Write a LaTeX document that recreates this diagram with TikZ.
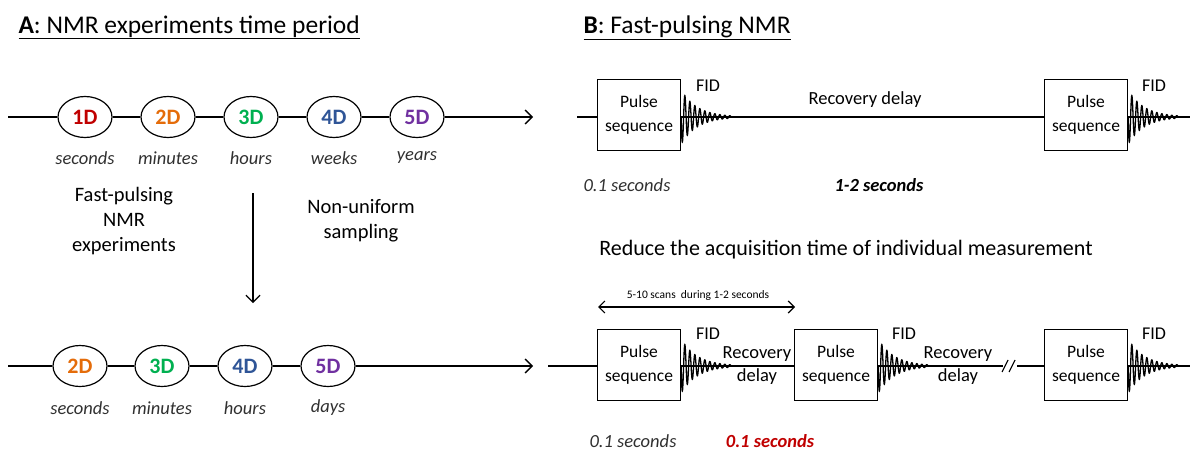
\documentclass[tikz,border=0pt]{standalone}
\usepackage{fontspec}
\setmainfont{Carlito}
\usetikzlibrary{shapes.geometric,arrows.meta}
\definecolor{cA}{HTML}{C00000}
\definecolor{cB}{HTML}{E46C0A}
\definecolor{cC}{HTML}{00B050}
\definecolor{cD}{HTML}{2F5597}
\definecolor{cE}{HTML}{7030A0}
\definecolor{lab}{HTML}{303030}
\tikzset{
  axis/.style={line width=1.3pt},
  dim/.style={draw, ellipse, line width=1.2pt, minimum width=54pt, minimum height=41pt, inner sep=0pt, font=\fontsize{22}{22}\selectfont\bfseries},
  tlab/.style={font=\fontsize{18.5}{18.5}\selectfont\itshape, text=lab},
  body/.style={font=\fontsize{20.5}{25}\selectfont, align=center},
  pbox/.style={draw, line width=1.2pt, minimum width=83pt, minimum height=71pt, align=center, inner sep=0pt, font=\fontsize{17.5}{24}\selectfont},
  fidl/.style={font=\fontsize{18}{18}\selectfont},
  recl/.style={font=\fontsize{18.5}{23}\selectfont, align=center},
  arr/.style={-{Straight Barb[length=7pt,width=14pt]}, line width=1.3pt},
  fid/.style={line width=1.3pt},
}
\newcommand\fidwave[1]{\draw[fid, shift={(#1)}] plot[domain=0:50, samples=500, smooth] (\x,{27*exp(-\x/16)*sin(72*\x)});}
\begin{document}
\begin{tikzpicture}[x=1pt,y=-1pt]
\useasboundingbox (0,0) rectangle (1190,450);
% ---------- Panel A ----------
\node[anchor=base west, font=\fontsize{25.5}{25}\selectfont] (ta) at (15,33) {\underline{\textbf{A}: NMR experiments time period}};
\coordinate (a0) at (8,117);
\coordinate (aend) at (533,117);
\node[dim, text=cA] (a1) at (85,117) {1D};
\node[dim, text=cB] (a2) at (168,117) {2D};
\node[dim, text=cC] (a3) at (251,117) {3D};
\node[dim, text=cD] (a4) at (334,117) {4D};
\node[dim, text=cE] (a5) at (417,117) {5D};
\draw[axis] (a0) -- (a1) (a1) -- (a2) (a2) -- (a3) (a3) -- (a4) (a4) -- (a5);
\draw[arr] (a5) -- (aend);
\node[tlab] (l1) at (85,158) {seconds};
\node[tlab] (l2) at (168,158) {minutes};
\node[tlab] (l3) at (251,158) {hours};
\node[tlab] (l4) at (334,158) {weeks};
\node[tlab] (l5) at (417,158) {years};

\coordinate (d0) at (253,193);
\coordinate (d1) at (253,303);
\draw[arr, line width=1.2pt] (d0) -- (d1);
\node[body] (fp) at (124,221) {Fast-pulsing\\NMR\\experiments};
\node[body] (nu) at (361,221) {Non-uniform\\sampling};

\coordinate (b0) at (8,366);
\coordinate (bend) at (533,366);
\node[dim, text=cB] (b1) at (80,366) {2D};
\node[dim, text=cC] (b2) at (162,366) {3D};
\node[dim, text=cD] (b3) at (245,366) {4D};
\node[dim, text=cE] (b4) at (328,366) {5D};
\draw[axis] (b0) -- (b1) (b1) -- (b2) (b2) -- (b3) (b3) -- (b4);
\draw[arr] (b4) -- (bend);
\node[tlab] (m1) at (80,408) {seconds};
\node[tlab] (m2) at (162,408) {minutes};
\node[tlab] (m3) at (245,408) {hours};
\node[tlab] (m4) at (328,408) {days};

% ---------- Panel B ----------
\node[anchor=base west, font=\fontsize{25.5}{25}\selectfont] (tb) at (580,33) {\underline{\textbf{B}: Fast-pulsing NMR}};
\coordinate (p0) at (577,117);
\coordinate (pend) at (1190,117);
\node[pbox] (p1) at (639,115) {Pulse\\sequence};
\node[pbox] (p2) at (1086,115) {Pulse\\sequence};
\draw[axis] (p0) -- (p0 -| p1.west);
\draw[axis] (p1.east |- p0) -- (p2.west |- p0);
\draw[axis] (p2.east |- p0) -- (pend);
\fidwave{p1.east |- p0}
\fidwave{p2.east |- p0}
\node[fidl] (f1) at (708,86) {FID};
\node[fidl] (f2) at (1154,86) {FID};
\node[recl] (r0) at (865,100) {Recovery delay};
\node[tlab] (s1) at (627,185) {0.1 seconds};
\node[font=\fontsize{18.5}{18}\selectfont\bfseries\itshape] (s2) at (879,185) {1-2 seconds};

\node[font=\fontsize{22}{22}\selectfont] (rd) at (846,250) {Reduce the acquisition time of individual measurement};

\coordinate (q0) at (548,366);
\coordinate (qend) at (1190,366);
\coordinate (k1) at (1003,366);
\coordinate (k2) at (1017,366);
\node[pbox] (q1) at (639,365) {Pulse\\sequence};
\node[pbox] (q2) at (836,365) {Pulse\\sequence};
\node[pbox] (q3) at (1086,365) {Pulse\\sequence};
\draw[axis] (q0) -- (q0 -| q1.west);
\draw[axis] (q1.east |- q0) -- (q2.west |- q0);
\draw[axis] (q2.east |- q0) -- (k1);
\draw[axis] (k2) -- (k2 -| q3.west);
\draw[axis] (q3.east |- q0) -- (qend);
\draw[line width=1.1pt] ([shift={(-1,6)}]k1) -- ([shift={(5,-6)}]k1);
\draw[line width=1.1pt] ([shift={(6,6)}]k1) -- ([shift={(12,-6)}]k1);
\fidwave{q1.east |- q0}
\fidwave{q2.east |- q0}
\fidwave{q3.east |- q0}
\node[fidl] (g1) at (708,334) {FID};
\node[fidl] (g2) at (904,334) {FID};
\node[fidl] (g3) at (1154,334) {FID};
\node[recl] (r1) at (757,366) {Recovery\\delay};
\node[recl] (r2) at (958,366) {Recovery\\delay};

\coordinate (u0) at (598,307);
\coordinate (u1) at (795,307);
\draw[{Straight Barb[length=6pt,width=12pt]}-{Straight Barb[length=6pt,width=12pt]}, line width=1.2pt] (u0) -- (u1);
\node[font=\fontsize{11.5}{12}\selectfont] (ul) at (698,295) {5-10 scans\ \ during 1-2 seconds};

\node[tlab] (t1) at (633,441) {0.1 seconds};
\node[font=\fontsize{18.5}{18}\selectfont\bfseries\itshape, text=cA] (t2) at (770,441) {0.1 seconds};
\end{tikzpicture}
\end{document}
